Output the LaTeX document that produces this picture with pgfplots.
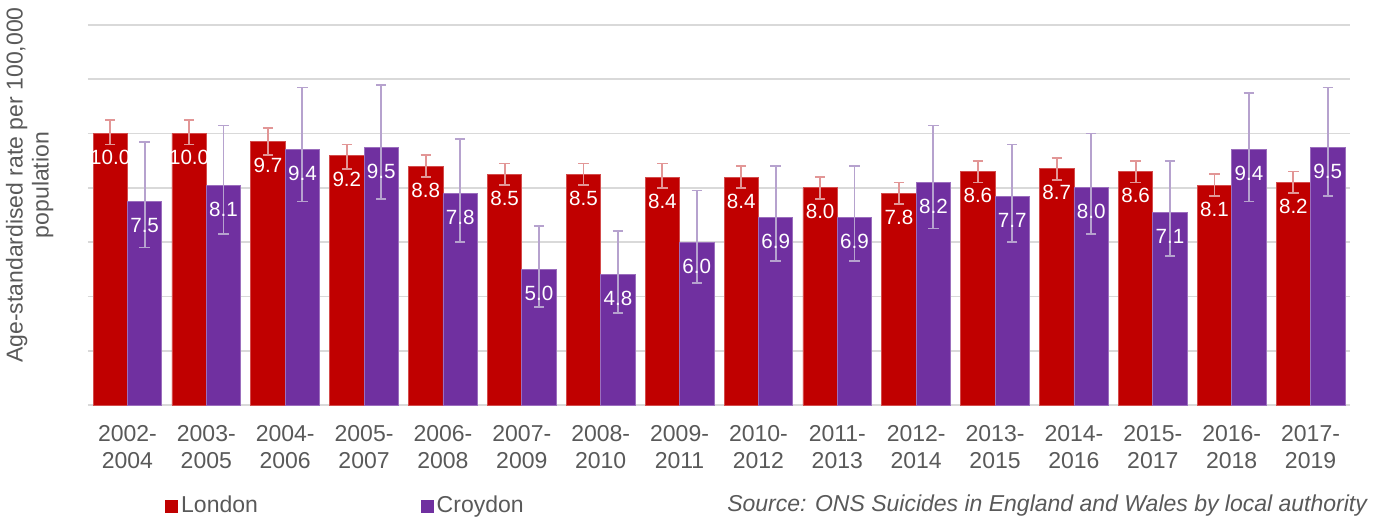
\documentclass[border=0pt]{standalone}
\usepackage{pgfplots}
\pgfplotsset{compat=1.18}
\usepackage{pgfplotstable}
\usepackage{fontspec}
\setmainfont{Liberation Sans}
\definecolor{lonred}{HTML}{C00000}
\definecolor{croypur}{HTML}{7030A0}
\definecolor{ebred}{RGB}{226,150,150}
\definecolor{ebpur}{RGB}{182,162,206}
\definecolor{gridc}{HTML}{D9D9D9}
\definecolor{txt}{HTML}{595959}
\pgfplotstableread{
x L Lp Lm C Cp Cm
0 10.0 0.5 0.4 7.5 2.2 1.7
1 10.0 0.5 0.4 8.1 2.2 1.8
2 9.7 0.5 0.5 9.4 2.3 1.9
3 9.2 0.4 0.5 9.5 2.3 1.9
4 8.8 0.4 0.4 7.8 2.0 1.8
5 8.5 0.4 0.4 5.0 1.6 1.4
6 8.5 0.4 0.4 4.8 1.6 1.4
7 8.4 0.5 0.4 6.0 1.9 1.5
8 8.4 0.4 0.4 6.9 1.9 1.6
9 8.0 0.4 0.4 6.9 1.9 1.6
10 7.8 0.4 0.4 8.2 2.1 1.7
11 8.6 0.4 0.4 7.7 1.9 1.7
12 8.7 0.4 0.4 8.0 2.0 1.7
13 8.6 0.4 0.4 7.1 1.9 1.6
14 8.1 0.4 0.4 9.4 2.1 1.9
15 8.2 0.4 0.4 9.5 2.2 1.8
}\datatable
\begin{document}
\begin{tikzpicture}
\begin{axis}[
  scale only axis, width=631pt, height=190pt,
  ybar=0pt, bar width=17.2pt,
  xmin=-0.5, xmax=15.5, ymin=0, ymax=14,
  xtick={0,...,15},
  xticklabels={{2002-\\2004},{2003-\\2005},{2004-\\2006},{2005-\\2007},{2006-\\2008},{2007-\\2009},{2008-\\2010},{2009-\\2011},{2010-\\2012},{2011-\\2013},{2012-\\2014},{2013-\\2015},{2014-\\2016},{2015-\\2017},{2016-\\2018},{2017-\\2019}},
  xticklabel style={align=center, font=\fontsize{11.5}{13.5}\selectfont, text=txt, yshift=-2.3pt},
  ytick={0,2,...,14}, yticklabels={},
  ymajorgrids, major grid style={draw=gridc, line width=0.8pt},
  axis line style={draw=none}, tick style={draw=none},
  /pgf/number format/assume math mode=true,
  nodes near coords,
  nodes near coords style={/pgf/number format/.cd, fixed, fixed zerofill, precision=1, /tikz/.cd, anchor=center, yshift=-12pt, text=white, font=\fontsize{10.3}{12}\selectfont},
  ylabel={Age-standardised rate per 100,000\\population},
  ylabel style={align=center, font=\fontsize{11.5}{13}\selectfont, text=txt, at={(axis description cs:-0.0463,0.579)}, anchor=center, rotate=0},
  legend columns=2,
  legend style={draw=none, fill=none, inner sep=0pt, at={(axis description cs:0.061,-0.266)}, anchor=west, font=\fontsize{11.5}{13.5}\selectfont, text=txt, nodes={inner sep=1.5pt}, /tikz/every even column/.append style={column sep=80pt}},
  clip=false,
]
\addplot+[fill=lonred, draw=lonred!70!white, line width=0.4pt,
  legend image code/.code={\fill[lonred] (0pt,-3pt) rectangle (6pt,3pt);},
  error bars/.cd, y dir=both, y explicit,
  error bar style={color=ebred, line width=0.9pt},
  error mark options={rotate=90, mark size=2.6pt, color=ebred, line width=0.9pt}]
  table[x=x, y=L, y error plus=Lp, y error minus=Lm]{\datatable};
\addplot+[fill=croypur, draw=croypur!70!white, line width=0.4pt,
  legend image code/.code={\fill[croypur] (0pt,-3pt) rectangle (6pt,3pt);},
  error bars/.cd, y dir=both, y explicit,
  error bar style={color=ebpur, line width=0.9pt},
  error mark options={rotate=90, mark size=2.6pt, color=ebpur, line width=0.9pt}]
  table[x=x, y=C, y error plus=Cp, y error minus=Cm]{\datatable};
\legend{London, Croydon}
\node[anchor=east, text=txt, font=\fontsize{11.5}{13.5}\selectfont\itshape] at ([xshift=12pt,yshift=-50.5pt]axis description cs:1,0) {Source: ONS Suicides in England and Wales by local authority};
\end{axis}
\pgfresetboundingbox
\path[use as bounding box] ([xshift=-44pt,yshift=-57.5pt]current axis.south west) rectangle ([xshift=18pt,yshift=12.5pt]current axis.north east);
\end{tikzpicture}
\end{document}
